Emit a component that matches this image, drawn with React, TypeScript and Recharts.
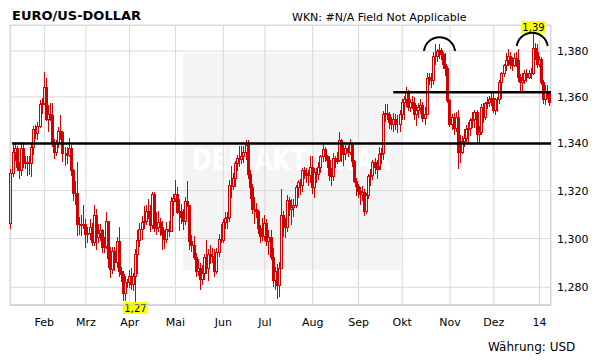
import React from "react";
import { ComposedChart, Bar, XAxis, YAxis, ReferenceLine, CartesianGrid } from "recharts";

// EUR/USD daily, 10.01.2013 - 08.01.2014 (one entry per trading day)
const firstOpen = 1.3065;

const closes = [
  // Jan
  1.3275, 1.3365, 1.338, 1.33, 1.3285, 1.338, 1.3315, 1.332, 1.332, 1.3315, 1.3385, 1.346, 1.3445, 1.3475, 1.357, 1.3575,
  // Feb
  1.3645, 1.3505, 1.3525, 1.352, 1.34, 1.3365, 1.3405, 1.3455, 1.345, 1.336, 1.336, 1.335, 1.338, 1.3285, 1.319, 1.319, 1.306, 1.306, 1.3055, 1.306,
  // Mrz
  1.302, 1.3025, 1.305, 1.2985, 1.31, 1.3005, 1.3025, 1.3035, 1.2965, 1.297, 1.3075, 1.292, 1.2875, 1.295, 1.2905, 1.299, 1.2865, 1.2855, 1.2775, 1.282, 1.282,
  // Apr
  1.2845, 1.2815, 1.2845, 1.2935, 1.2995, 1.304, 1.307, 1.3075, 1.3115, 1.311, 1.3055, 1.3185, 1.3045, 1.305, 1.307, 1.305, 1.302, 1.3, 1.304, 1.303, 1.3155, 1.317,
  // Mai
  1.3185, 1.311, 1.3115, 1.309, 1.3075, 1.3155, 1.314, 1.299, 1.2975, 1.2925, 1.2865, 1.288, 1.2835, 1.286, 1.2925, 1.288, 1.2935, 1.293, 1.293, 1.2865, 1.2945, 1.3, 1.2995,
  // Jun
  1.307, 1.3085, 1.309, 1.3225, 1.322, 1.3255, 1.3315, 1.334, 1.3335, 1.3345, 1.3365, 1.3395, 1.327, 1.3215, 1.3125, 1.3125, 1.3115, 1.3045, 1.301, 1.301,
  // Jul
  1.3065, 1.299, 1.3005, 1.2925, 1.283, 1.2865, 1.281, 1.288, 1.31, 1.3065, 1.305, 1.316, 1.3125, 1.313, 1.314, 1.3215, 1.3235, 1.3225, 1.3285, 1.3275, 1.3265, 1.3265, 1.33,
  // Aug
  1.3215, 1.328, 1.327, 1.33, 1.3345, 1.3375, 1.3345, 1.333, 1.3265, 1.326, 1.334, 1.3325, 1.333, 1.3415, 1.3355, 1.336, 1.338, 1.3365, 1.34, 1.3325, 1.324, 1.322,
  // Sep
  1.32, 1.3185, 1.3195, 1.3115, 1.318, 1.326, 1.3265, 1.332, 1.33, 1.329, 1.3355, 1.336, 1.3525, 1.353, 1.3525, 1.349, 1.3485, 1.3505, 1.3485, 1.3485, 1.3525,
  // Okt
  1.358, 1.359, 1.362, 1.3555, 1.358, 1.3575, 1.3525, 1.3545, 1.3555, 1.3565, 1.351, 1.3525, 1.368, 1.3685, 1.3675, 1.378, 1.378, 1.38, 1.3805, 1.3785, 1.3745, 1.3725, 1.3585,
  // Nov
  1.3485, 1.3515, 1.3465, 1.3515, 1.3365, 1.3365, 1.341, 1.3425, 1.346, 1.3465, 1.35, 1.3505, 1.3535, 1.344, 1.345, 1.3555, 1.3515, 1.3575, 1.358, 1.359, 1.3595,
  // Dez
  1.3545, 1.359, 1.359, 1.3665, 1.3705, 1.374, 1.376, 1.378, 1.3745, 1.374, 1.377, 1.376, 1.3685, 1.3665, 1.3675, 1.3705, 1.3685, 1.3705, 1.3705, 1.3815, 1.3795, 1.3745,
  // Jan 14
  1.3765, 1.3665, 1.359, 1.3625, 1.3615, 1.358,
];

const highs = [
  1.329, 1.3405, 1.3405, 1.339, 1.332, 1.3405, 1.3405, 1.3345, 1.3345, 1.3345, 1.3405, 1.3475, 1.348, 1.349, 1.3585, 1.3595,
  1.371, 1.368, 1.3565, 1.3575, 1.3575, 1.342, 1.3415, 1.347, 1.352, 1.3455, 1.3385, 1.3385, 1.3425, 1.3395, 1.329, 1.324, 1.332, 1.309, 1.31, 1.314,
  1.308, 1.305, 1.308, 1.3065, 1.314, 1.3125, 1.306, 1.306, 1.304, 1.3005, 1.311, 1.3015, 1.2965, 1.2965, 1.2965, 1.3005, 1.305, 1.2885, 1.2865, 1.2845, 1.2835,
  1.287, 1.288, 1.286, 1.2955, 1.3035, 1.3065, 1.3095, 1.3135, 1.314, 1.3165, 1.314, 1.3195, 1.3195, 1.311, 1.3115, 1.3085, 1.3075, 1.3035, 1.307, 1.3075, 1.3175, 1.3185,
  1.3245, 1.3215, 1.3165, 1.3145, 1.3125, 1.3175, 1.324, 1.314, 1.3015, 1.301, 1.294, 1.2915, 1.29, 1.289, 1.2935, 1.2995, 1.2955, 1.2975, 1.296, 1.2955, 1.296, 1.302, 1.306,
  1.308, 1.311, 1.311, 1.3245, 1.3305, 1.3275, 1.3325, 1.335, 1.339, 1.339, 1.339, 1.3415, 1.3415, 1.3285, 1.323, 1.3175, 1.315, 1.312, 1.3055, 1.3085,
  1.31, 1.308, 1.3035, 1.3035, 1.296, 1.2885, 1.2895, 1.2905, 1.3205, 1.3115, 1.3085, 1.318, 1.3175, 1.3165, 1.3165, 1.3225, 1.3245, 1.325, 1.3295, 1.33, 1.3295, 1.3285, 1.3345,
  1.3345, 1.3295, 1.3295, 1.332, 1.335, 1.34, 1.3385, 1.335, 1.3345, 1.3295, 1.336, 1.3345, 1.3365, 1.345, 1.342, 1.3395, 1.3395, 1.3395, 1.342, 1.3405, 1.333, 1.3255,
  1.323, 1.3215, 1.322, 1.3205, 1.319, 1.327, 1.329, 1.333, 1.334, 1.333, 1.3385, 1.338, 1.354, 1.357, 1.357, 1.3535, 1.3515, 1.353, 1.3525, 1.352, 1.3545,
  1.359, 1.3605, 1.3645, 1.363, 1.359, 1.3605, 1.36, 1.3565, 1.3575, 1.359, 1.358, 1.3555, 1.3705, 1.3705, 1.3705, 1.3795, 1.383, 1.381, 1.383, 1.3815, 1.3795, 1.379, 1.3735,
  1.359, 1.3525, 1.353, 1.3535, 1.3545, 1.3435, 1.343, 1.346, 1.348, 1.349, 1.351, 1.3535, 1.3545, 1.3545, 1.3475, 1.357, 1.3575, 1.358, 1.36, 1.3605, 1.362,
  1.362, 1.3595, 1.36, 1.3675, 1.371, 1.3745, 1.379, 1.381, 1.3795, 1.3775, 1.379, 1.3795, 1.381, 1.37, 1.3705, 1.3715, 1.372, 1.3715, 1.3725, 1.388, 1.3835, 1.383,
  1.378, 1.3775, 1.3675, 1.365, 1.365, 1.3625,
];

const lows = [
  1.3045, 1.326, 1.333, 1.3285, 1.3255, 1.3265, 1.33, 1.3295, 1.3265, 1.327, 1.326, 1.3355, 1.3425, 1.342, 1.347, 1.353,
  1.357, 1.35, 1.3455, 1.35, 1.339, 1.334, 1.335, 1.3385, 1.342, 1.3325, 1.331, 1.3315, 1.3345, 1.3265, 1.316, 1.3145, 1.3015, 1.302, 1.3015, 1.3045,
  1.2965, 1.2985, 1.3, 1.2975, 1.2975, 1.2955, 1.2985, 1.2995, 1.2945, 1.2945, 1.296, 1.2885, 1.284, 1.286, 1.287, 1.2885, 1.2845, 1.2825, 1.275, 1.275, 1.28,
  1.28, 1.2795, 1.279, 1.2745, 1.286, 1.297, 1.3, 1.3045, 1.306, 1.3085, 1.303, 1.3045, 1.303, 1.302, 1.303, 1.3015, 1.2955, 1.296, 1.2985, 1.301, 1.303, 1.31,
  1.3155, 1.3105, 1.3035, 1.3065, 1.304, 1.306, 1.3135, 1.2955, 1.295, 1.2915, 1.2845, 1.285, 1.2795, 1.2815, 1.2835, 1.286, 1.283, 1.29, 1.2905, 1.2845, 1.286, 1.293, 1.2985,
  1.2985, 1.3045, 1.3045, 1.3075, 1.3175, 1.3205, 1.322, 1.3285, 1.3305, 1.3315, 1.332, 1.3335, 1.3255, 1.317, 1.3105, 1.3065, 1.309, 1.3025, 1.2985, 1.2995,
  1.2995, 1.2975, 1.2935, 1.2915, 1.2805, 1.2795, 1.2755, 1.2765, 1.288, 1.301, 1.3005, 1.303, 1.31, 1.306, 1.3095, 1.313, 1.3175, 1.3185, 1.32, 1.3255, 1.3235, 1.3225, 1.3235,
  1.319, 1.3175, 1.3235, 1.325, 1.328, 1.3325, 1.3325, 1.33, 1.3245, 1.3225, 1.3245, 1.33, 1.3315, 1.3325, 1.3325, 1.331, 1.3335, 1.3345, 1.3355, 1.3305, 1.3235, 1.318,
  1.3175, 1.3145, 1.316, 1.31, 1.3105, 1.317, 1.3225, 1.325, 1.3275, 1.3255, 1.331, 1.3315, 1.3335, 1.3495, 1.3505, 1.3465, 1.346, 1.3455, 1.346, 1.345, 1.3455,
  1.3505, 1.3505, 1.356, 1.3545, 1.354, 1.355, 1.3505, 1.348, 1.3515, 1.353, 1.3495, 1.3485, 1.3525, 1.3655, 1.3645, 1.3655, 1.3745, 1.3755, 1.377, 1.3765, 1.3725, 1.3695, 1.358,
  1.3475, 1.346, 1.344, 1.3455, 1.3295, 1.332, 1.336, 1.339, 1.341, 1.3405, 1.3435, 1.347, 1.347, 1.34, 1.34, 1.344, 1.349, 1.3505, 1.355, 1.356, 1.3565,
  1.3535, 1.3525, 1.354, 1.3575, 1.3595, 1.369, 1.3715, 1.374, 1.3725, 1.3715, 1.3735, 1.3735, 1.367, 1.3625, 1.3625, 1.366, 1.367, 1.368, 1.368, 1.37, 1.3765, 1.373,
  1.3735, 1.3655, 1.3575, 1.357, 1.3595, 1.3565,
];

const monthTicks = [16, 36, 57, 79, 102, 122, 145, 167, 188, 211, 232, 254];
const monthLabels = ["Feb", "Mrz", "Apr", "Mai", "Jun", "Jul", "Aug", "Sep", "Okt", "Nov", "Dez", "14"];
const priceTicks = [1.28, 1.3, 1.32, 1.34, 1.36, 1.38];
const supportLevel = 1.34;
const resistanceLevel = 1.362;

const data = closes.map((close, i) => ({
  i,
  open: i === 0 ? firstOpen : closes[i - 1],
  close,
  high: highs[i],
  low: lows[i],
  range: [lows[i], highs[i]],
}));

const maxIdx = highs.indexOf(Math.max(...highs));
const minIdx = lows.indexOf(Math.min(...lows));

const RED = "#d40000";
const FONT = "DejaVu Sans, Verdana, sans-serif";
const fmt = (v: number, d: number) => v.toFixed(d).replace(".", ",");

function Candle(props: any) {
  const { x, y, width, height, payload } = props;
  if (!payload || x == null || y == null) return null;
  const top = Math.min(y, y + height);
  const bot = Math.max(y, y + height);
  const lh = Math.log(payload.high);
  const ll = Math.log(payload.low);
  const py = (v: number) => (lh === ll ? top : top + ((lh - Math.log(v)) / (lh - ll)) * (bot - top));
  const snap = (v: number) => Math.round(v) + 0.5;
  const c = Math.floor(x + width / 2) + 0.5;
  const yH = snap(py(payload.high));
  const yL = snap(py(payload.low));
  const yB1 = snap(py(Math.max(payload.open, payload.close)));
  const yB2 = snap(py(Math.min(payload.open, payload.close)));
  const up = payload.close >= payload.open;
  return (
    <g shapeRendering="crispEdges">
      <line x1={c} x2={c} y1={yH - 0.5} y2={yB1} stroke={RED} strokeWidth={1} />
      <line x1={c} x2={c} y1={yB2} y2={yL + 0.5} stroke={RED} strokeWidth={1} />
      {up ? (
        <rect x={c - 1} y={yB1} width={2} height={Math.max(yB2 - yB1, 0)} fill="none" stroke={RED} strokeWidth={1} />
      ) : (
        <rect x={c - 1.5} y={yB1 - 0.5} width={3} height={Math.max(yB2 - yB1, 0) + 1} fill={RED} />
      )}
      {payload.i === maxIdx && (
        <g>
          <rect x={c - 12.5} y={yH - 12.5} width={24} height={12} fill="#ffff00" />
          <text x={c} y={yH - 3} textAnchor="middle" fontSize={10} fontFamily={FONT} fill="#000">
            {fmt(payload.high, 2)}
          </text>
        </g>
      )}
      {payload.i === minIdx && (
        <g>
          <rect x={c - 12.5} y={yL + 0.5} width={24} height={12} fill="#ffff00" />
          <text x={c} y={yL + 10} textAnchor="middle" fontSize={10} fontFamily={FONT} fill="#000">
            {fmt(payload.low, 2)}
          </text>
        </g>
      )}
    </g>
  );
}

export default function App() {
  const tick = { fontSize: 11, fontFamily: FONT, fill: "#000" };
  return (
    <div style={{ position: "absolute", left: 0, top: 0, width: 611, height: 364, background: "#fff" }}>
      <svg width={611} height={364} style={{ position: "absolute", left: 0, top: 0 }}>
        <rect x={10.5} y={25.5} width={540} height={280} fill="none" stroke="#d8d8d8" />
        <rect x={183} y={53} width={218} height={217} fill="#f4f4f4" />
        <text x={292} y={170} textAnchor="middle" fontSize={30} fontWeight="bold" fontFamily={FONT} fill="#fff"
          textLength={200} lengthAdjust="spacingAndGlyphs">
          DER AKTIONÄR
        </text>
      </svg>
      <div style={{ position: "absolute", left: 0, top: 0 }}>
        <ComposedChart width={611} height={364} data={data} margin={{ top: 25, right: 10, bottom: 29, left: 10 }}>
          <CartesianGrid stroke="#d8d8d8" />
          <XAxis
            dataKey="i"
            type="number"
            domain={[-0.5, 259.5]}
            ticks={monthTicks}
            interval={0}
            tickFormatter={(v: number) => monthLabels[monthTicks.indexOf(v)] ?? ""}
            tickLine={false}
            tickSize={0}
            tickMargin={13}
            height={30}
            axisLine={{ stroke: "#c8c8c8" }}
            tick={tick}
          />
          <YAxis
            orientation="right"
            type="number"
            scale="log"
            domain={[1.2728, 1.3915]}
            ticks={priceTicks}
            interval={0}
            tickFormatter={(v: number) => fmt(v, 3)}
            tickLine={false}
            axisLine={false}
            tickSize={0}
            tickMargin={6}
            width={50}
            tick={tick}
          />
          <Bar dataKey="range" barSize={3} fill="none" shape={(p: any) => <Candle {...p} />} isAnimationActive={false} />
          <ReferenceLine
            segment={[{ x: 0.5, y: supportLevel }, { x: 259.5, y: supportLevel }]}
            stroke="#000"
            strokeWidth={2.5}
            ifOverflow="visible"
          />
          <ReferenceLine
            segment={[{ x: 183.7, y: resistanceLevel }, { x: 259.5, y: resistanceLevel }]}
            stroke="#000"
            strokeWidth={2.5}
            ifOverflow="visible"
          />
        </ComposedChart>
      </div>
      <svg width={611} height={364} style={{ position: "absolute", left: 0, top: 0, pointerEvents: "none" }}>
        <text x={12} y={19.5} fontSize={13} fontWeight="bold" fontFamily={FONT} fill="#000">
          EURO/US-DOLLAR
        </text>
        <text x={292} y={21} fontSize={11} fontFamily={FONT} fill="#000">
          WKN: #N/A Field Not Applicable
        </text>
        <path d="M 424 51 A 15.6 15.6 0 0 1 455 51" fill="none" stroke="#000" strokeWidth={2} />
        <path d="M 516.7 46 A 15.7 15.7 0 0 1 547.7 46" fill="none" stroke="#000" strokeWidth={2} />
        <text x={488} y={351} fontSize={12} fontFamily={FONT} fill="#000">
          Währung: USD
        </text>
      </svg>
    </div>
  );
}
